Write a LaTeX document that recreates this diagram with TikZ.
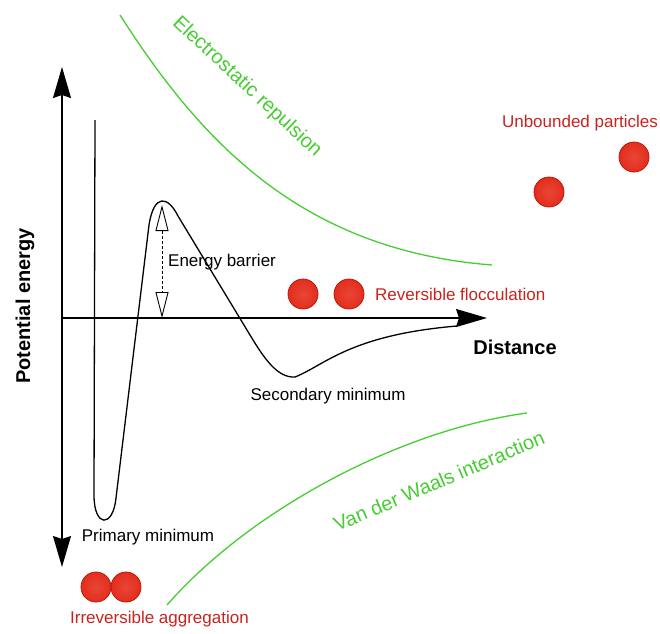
\documentclass[tikz,border=0pt]{standalone}
\usepackage{fontspec}
\setmainfont{Liberation Sans}
\usetikzlibrary{arrows.meta,positioning}
\definecolor{forcegreen}{RGB}{70,205,50}
\definecolor{labelred}{RGB}{200,35,30}
\definecolor{ballred}{RGB}{228,45,28}
\definecolor{ballrim}{RGB}{185,25,15}

\tikzset{
  lbl/.style={font=\fontsize{17}{20}\selectfont, inner sep=0pt},
  redlbl/.style={lbl, text=labelred},
  greenlbl/.style={font=\fontsize{20}{24}\selectfont, text=forcegreen, inner sep=0pt},
  axislbl/.style={font=\fontsize{20}{24}\selectfont\bfseries, inner sep=0pt},
  particle/.style={circle, minimum size=30pt, inner sep=0pt, draw=ballrim,
    line width=0.8pt, inner color=ballred!88!white, outer color=ballred},
  axisline/.style={line width=1.4pt},
  forcecurve/.style={forcegreen, line width=1.3pt},
  bigtip/.tip={Stealth[length=31pt,width=18pt,inset=3pt]},
  opentip/.tip={Triangle[open,length=26pt,width=13pt,line width=0.9pt]},
}

\begin{document}
\begin{tikzpicture}[x=1pt,y=-1pt]
\useasboundingbox (0,0) rectangle (660,633);

% Axes
\coordinate (origin) at (62,318);
\coordinate (ytop) at (62,67);
\coordinate (ybot) at (62,567);
\coordinate (xend) at (487,318);
\draw[axisline, bigtip-bigtip] (ybot) -- (ytop);
\draw[axisline, -bigtip] (origin) -- (xend);
\node[axislbl, rotate=90] (penergy) at (25,306) {Potential energy};
\node[axislbl] (dist) at (515,347) {Distance};

% Interaction curves
\draw[forcecurve] (120,15) .. controls (200,140) and (300,250) .. (492,265);
\node[greenlbl, rotate=-43] (elrep) at (247,87) {Electrostatic repulsion};
\draw[forcecurve] (167,605) .. controls (250,510) and (400,430) .. (527,413);
\node[greenlbl, rotate=23] (vdw) at (439,481) {Van der Waals interaction};

% Potential energy curve
\draw[line width=1.3pt] (95,120) -- (94,495)
  .. controls (94,528) and (113,528) .. (116,498) -- (149,225)
  .. controls (154,193) and (168,196) .. (178,216) -- (250,335)
  .. controls (265,360) and (278,378) .. (295,377)
  .. controls (325,365) and (350,335) .. (457,326);
\node[lbl] (primin) at (148,537) {Primary minimum};
\node[lbl] (secmin) at (328,396) {Secondary minimum};

% Energy barrier
\coordinate (bartop) at (162,205);
\coordinate (barbot) at (162,318);
\draw[densely dashed, line width=0.9pt, opentip-opentip] (bartop) -- (barbot);
\node[lbl, anchor=west] (barrier) at (168,262) {Energy barrier};

% Particles
\node[particle] (agg1) at (96,587) {};
\node[particle] (agg2) at (126,587) {};
\node[redlbl, anchor=west] (irrev) at (70,619) {Irreversible aggregation};
\node[particle] (floc1) at (303,294) {};
\node[particle] (floc2) at (349,294) {};
\node[redlbl, anchor=west] (rev) at (375,294) {Reversible flocculation};
\node[particle] (free1) at (549,192) {};
\node[particle] (free2) at (634,157) {};
\node[redlbl] (unb) at (580,123) {Unbounded particles};
\end{tikzpicture}
\end{document}
